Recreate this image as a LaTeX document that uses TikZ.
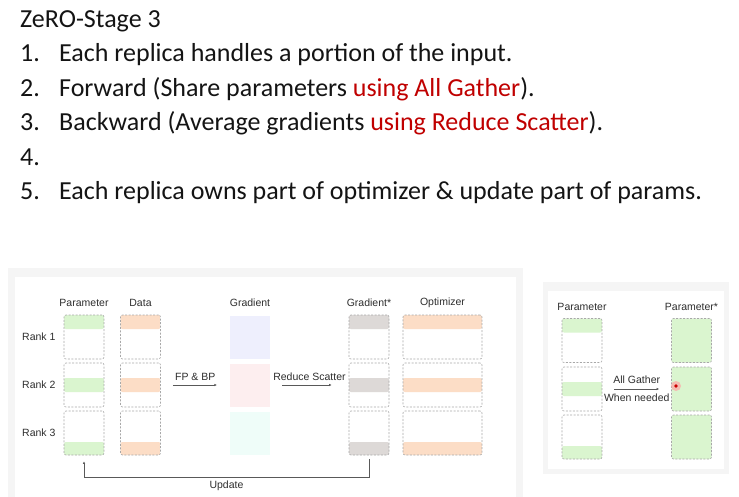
\documentclass[tikz,border=0pt]{standalone}
\usepackage{fontspec}
\setmainfont{Carlito}
\newfontfamily\diafont{Liberation Sans}
\usetikzlibrary{positioning, arrows.meta, calc}
\definecolor{redtext}{HTML}{C00000}
\definecolor{pgreen}{HTML}{DAF5CF}
\definecolor{porange}{HTML}{FCDDC6}
\definecolor{pgrey}{HTML}{DDD9D7}
\definecolor{glav}{HTML}{EEEFFD}
\definecolor{gpink}{HTML}{FDEEEF}
\definecolor{gmint}{HTML}{EFFDF9}
\definecolor{cellgrey}{HTML}{A8A8A8}
\definecolor{txtgrey}{HTML}{2E2E2E}
\definecolor{panelgrey}{HTML}{F5F5F5}

\begin{document}
\begin{tikzpicture}[
    x=1pt, y=1pt,
    line/.style={font=\fontsize{26}{30}\selectfont, anchor=base west, inner sep=0pt, text=black!92},
    cell/.style={draw=cellgrey, dash pattern=on 2pt off 1.5pt, line width=0.6pt, rounded corners=2pt, minimum width=40pt, minimum height=44pt, inner sep=0pt},
    wide/.style={minimum width=79pt},
    gradcell/.style={minimum width=40pt, minimum height=43pt, inner sep=0pt},
    striptop/.style={path picture={\fill[#1] (path picture bounding box.north west) rectangle ([yshift=-14pt]path picture bounding box.north east);}},
    stripmid/.style={path picture={\fill[#1] ([yshift=-15pt]path picture bounding box.north west) rectangle ([yshift=-29pt]path picture bounding box.north east);}},
    stripbot/.style={path picture={\fill[#1] ([yshift=13pt]path picture bounding box.south west) rectangle (path picture bounding box.south east);}},
    collabel/.style={font=\diafont\fontsize{10.5}{12}\selectfont, text=txtgrey, inner sep=1pt},
    conn/.style={draw=black!65, line width=0.6pt, -{Latex[length=2.5pt, width=2.5pt]}}
]
\useasboundingbox (0,0) rectangle (739,-497);
\fill[white] (0,0) rectangle (739,-497);

% Text
\node[line] (title) at (20,-28) {ZeRO-Stage 3};
\node[line] (n1) at (20,-62) {1.};
\node[line] (t1) at (59,-62) {Each replica handles a portion of the input.};
\node[line] (n2) at (20,-97) {2.};
\node[line] (t2) at (59,-97) {Forward (Share parameters \textcolor{redtext}{using All Gather}).};
\node[line] (n3) at (20,-131) {3.};
\node[line] (t3) at (59,-131) {Backward (Average gradients \textcolor{redtext}{using Reduce Scatter}).};
\node[line] (n4) at (20,-166) {4.};
\node[line] (n5) at (20,-200) {5.};
\node[line] (t5) at (59,-200) {Each replica owns part of optimizer \& update part of params.};

% Panels
\fill[panelgrey] (8,-268) rectangle (523,-497);
\fill[white] (15,-277) rectangle (516,-497);
\fill[panelgrey] (543,-282) rectangle (729,-474);
\fill[white] (548,-291) rectangle (724,-469);

% Knoten links
\node[cell, striptop=pgreen] (par1) at (84,-337) {};
\node[cell, stripmid=pgreen] (par2) at (84,-385) {};
\node[cell, stripbot=pgreen] (par3) at (84,-433) {};
\node[cell, striptop=porange] (dat1) at (140.5,-337) {};
\node[cell, stripmid=porange] (dat2) at (140.5,-385) {};
\node[cell, stripbot=porange] (dat3) at (140.5,-433) {};
\node[gradcell, fill=glav] (gr1) at (250,-337) {};
\node[gradcell, fill=gpink] (gr2) at (250,-385) {};
\node[gradcell, fill=gmint] (gr3) at (250,-433) {};
\node[cell, striptop=pgrey] (gs1) at (369,-337) {};
\node[cell, stripmid=pgrey] (gs2) at (369,-385) {};
\node[cell, stripbot=pgrey] (gs3) at (369,-433) {};
\node[cell, wide, striptop=porange] (opt1) at (442.5,-337) {};
\node[cell, wide, stripmid=porange] (opt2) at (442.5,-385) {};
\node[cell, wide, stripbot=porange] (opt3) at (442.5,-433) {};

\node[collabel] (lpar) at (84,-303) {Parameter};
\node[collabel] (ldat) at (140.5,-303) {Data};
\node[collabel] (lgr) at (250,-303) {Gradient};
\node[collabel] (lgs) at (369,-303) {Gradient*};
\node[collabel] (lopt) at (442.5,-303) {Optimizer};
\node[collabel, left=7pt of par1] (rank1) {Rank 1};
\node[collabel, left=7pt of par2] (rank2) {Rank 2};
\node[collabel, left=7pt of par3] (rank3) {Rank 3};

% Knoten rechts
\node[cell, striptop=pgreen] (rp1) at (582,-340.5) {};
\node[cell, stripmid=pgreen] (rp2) at (582,-389) {};
\node[cell, stripbot=pgreen] (rp3) at (582,-437) {};
\node[cell, fill=pgreen] (rq1) at (691.5,-340.5) {};
\node[cell, fill=pgreen] (rq2) at (691.5,-389) {};
\node[cell, fill=pgreen] (rq3) at (691.5,-437) {};
\node[collabel] (lrp) at (582,-307) {Parameter};
\node[collabel] (lrq) at (691.5,-307) {Parameter*};

% Kanten
\draw[conn, shorten <=12pt, shorten >=13pt] (dat2) -- (gr2) node[midway, above=3pt, collabel] {FP \& BP};
\draw[conn, shorten <=12pt, shorten >=17pt] (gr2) -- (gs2) node[midway, above=3pt, collabel] {Reduce Scatter};
\draw[conn, shorten <=4pt, shorten >=6pt] (gs3.south) -- ++(0,-22) -| (par3.south) node[pos=0.25, below=2pt, collabel] {Update};
\draw[conn, shorten <=12pt, shorten >=12pt] (rp2) -- (rq2) node[midway, above=4pt, collabel] {All Gather} node[midway, below=4pt, collabel] {When needed};

% Zeiger
\fill[red!35, opacity=0.7] (676,-386) circle (5pt);
\fill[red!80!black] (676,-386) circle (1.8pt);
\end{tikzpicture}
\end{document}
